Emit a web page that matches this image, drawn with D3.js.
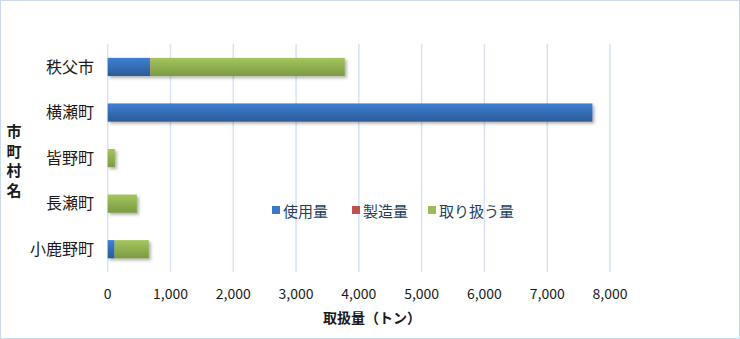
<!DOCTYPE html>
<html><head><meta charset="utf-8">
<script src="https://cdn.jsdelivr.net/npm/d3@7"></script>
<style>
html,body{margin:0;padding:0;background:#fff;}
svg{display:block;font-family:"Noto Sans CJK JP","Noto Sans",sans-serif;}
</style></head>
<body>
<svg id="c" width="740" height="339"></svg>
<script>
const categories = ["秩父市","横瀬町","皆野町","長瀬町","小鹿野町"];
const seriesNames = ["使用量","製造量","取り扱う量"];
const useAmount = [675, 7720, 0, 0, 110];
const makeAmount = [6, 0, 0, 0, 0];
const handleAmount = [3095, 0, 115, 465, 545];
const xTicks = [0,1000,2000,3000,4000,5000,6000,7000,8000];
const colors = ["#3b78c6","#c0504d","#9bbb59"];
const darkColors = ["#2c5b98","#99403d","#7c9a42"];

const svg = d3.select("#c");
const defs = svg.append("defs");
colors.forEach((c,i)=>{
  const g = defs.append("linearGradient").attr("id","g"+i).attr("x1",0).attr("y1",0).attr("x2",0).attr("y2",1);
  g.append("stop").attr("offset","0%").attr("stop-color",d3.color(c).brighter(0.15));
  g.append("stop").attr("offset","100%").attr("stop-color",darkColors[i]);
});
const f = defs.append("filter").attr("id","sh").attr("x","-10%").attr("y","-30%").attr("width","130%").attr("height","180%");
f.append("feDropShadow").attr("dx",2).attr("dy",2).attr("stdDeviation",1.5).attr("flood-color","#000").attr("flood-opacity",0.3);

svg.append("rect").attr("x",0.5).attr("y",0.5).attr("width",739).attr("height",338)
  .attr("fill","#fff").attr("stroke","#c9daf0");

const x = d3.scaleLinear().domain([0,8000]).range([107.7,610]);
const y = d3.scaleBand().domain(categories).range([44.2,272]).paddingInner(0.6).paddingOuter(0.3);

svg.append("g").selectAll("line").data(xTicks).join("line")
  .attr("x1",d=>x(d)).attr("x2",d=>x(d)).attr("y1",44).attr("y2",272)
  .attr("stroke","#d6e3f3").attr("stroke-width",1.5);

const rows = categories.map((c,i)=>({cat:c, vals:[useAmount[i],makeAmount[i],handleAmount[i]]}));
const barG = svg.append("g").attr("filter","url(#sh)");
rows.forEach(r=>{
  let acc = 0;
  r.vals.forEach((v,si)=>{
    if(v>0){
      barG.append("rect").attr("x",x(acc)).attr("width",x(acc+v)-x(acc))
        .attr("y",y(r.cat)).attr("height",y.bandwidth())
        .attr("fill","url(#g"+si+")");
    }
    acc += v;
  });
});

svg.append("g").selectAll("text").data(categories).join("text")
  .attr("x",94).attr("y",d=>y(d)+y.bandwidth()/2).attr("dy","0.36em")
  .attr("text-anchor","end").attr("font-size",16).attr("fill","#1a1a1a").text(d=>d);

svg.append("g").selectAll("text").data(xTicks).join("text")
  .attr("x",d=>x(d)).attr("y",299).attr("text-anchor","middle")
  .attr("font-size",14).attr("fill","#1a1a1a").text(d=>d3.format(",")(d));

svg.append("text").attr("x",372).attr("y",323).attr("text-anchor","middle")
  .attr("font-size",14).attr("font-weight","bold").attr("fill","#1a1a1a").text("取扱量（トン）");

const yt = "市町村名".split("");
svg.append("g").selectAll("text").data(yt).join("text")
  .attr("x",14).attr("y",(d,i)=>137+i*19.5).attr("text-anchor","middle")
  .attr("font-size",15).attr("font-weight","bold").attr("fill","#1a1a1a").text(d=>d);

const legX = [272,352,428];
const lg = svg.append("g");
seriesNames.forEach((n,i)=>{
  lg.append("rect").attr("x",legX[i]).attr("y",206).attr("width",8).attr("height",8).attr("fill",colors[i]);
  lg.append("text").attr("x",legX[i]+11).attr("y",216.5).attr("font-size",15).attr("fill","#243f60").text(n);
});
</script>
</body></html>
